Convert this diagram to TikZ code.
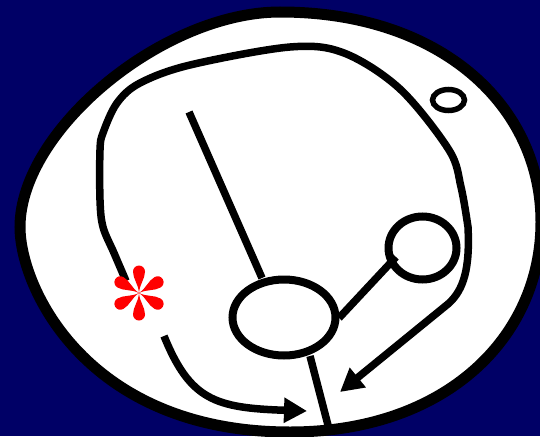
\documentclass[tikz,border=0pt]{standalone}
\usetikzlibrary{arrows.meta}
\definecolor{navy}{RGB}{0,0,102}
\definecolor{starred}{RGB}{255,0,0}
\begin{document}
\begin{tikzpicture}[x=1pt,y=-1pt,
  stroke/.style={line width=7.5pt, black},
  ring/.style={line width=8pt, black},
  bigtip/.style={-{Triangle[length=23pt,width=24pt]}},
  petal/.style={fill=starred}]
\useasboundingbox (0,0) rectangle (540,436);
\fill[navy] (0,0) rectangle (540,436);
% outer white body
\begin{scope}
\clip (0,0) rectangle (540,436);
\draw[line width=11pt, fill=white]
  (280,12) .. controls (441.8,12) and (541,106.5) .. (541,222)
           .. controls (541,337.5) and (445.6,432) .. (290,432)
           .. controls (87.5,432) and (20,288.5) .. (20,227)
           .. controls (20,130.25) and (163,12) .. (280,12) -- cycle;
\end{scope}
% named points
\coordinate (mid) at (284,317.5);
\coordinate (ringc) at (422.5,248);
\coordinate (dot) at (448.5,100);
\coordinate (star) at (139,293);
\coordinate (midR) at (339,318);
\coordinate (ringL) at (396,257);
\coordinate (diagA) at (189,112);
\coordinate (diagB) at (262,278);
\coordinate (stemA) at (310,356);
\coordinate (stemB) at (329,429);
\coordinate (arrA) at (164,336);
\coordinate (arrB) at (307,411);
\coordinate (loopTip) at (340,392);
% shapes
\draw[ring] (mid) ellipse [x radius=51.5, y radius=38];
\draw[ring] (ringc) ellipse [x radius=34, y radius=31.5];
\draw[line width=5.5pt] (dot) ellipse [x radius=16, y radius=10.5];
% lines
\draw[stroke] (diagA) -- (diagB);
\draw[stroke] (stemA) -- (stemB);
\draw[stroke] (midR) -- (ringL);
% long loop with arrow
\draw[stroke, bigtip] plot[smooth, tension=0.55] coordinates {
 (126,281) (114,253) (103,227) (100,200) (100,150) (103,133) (117,103)
 (140,83) (190,65) (290,47) (344,53) (400,89) (449,150) (461,187)
 (468,227)} .. controls (470,268) and (464,290) .. (448,304) -- (loopTip);
% lower arrow
\draw[stroke, bigtip] (arrA) .. controls (190,400) and (215,408) .. (arrB);
% red asterisk
\begin{scope}[shift={(star)}]
\foreach \a in {30,90,150,210,270,330}
  \fill[petal, rotate=\a] (0,0) .. controls (9,0.6) and (14,6) .. (21.5,6)
     arc[start angle=90, end angle=-90, radius=6]
     .. controls (14,-6) and (9,-0.6) .. (0,0);
\end{scope}
\end{tikzpicture}
\end{document}
